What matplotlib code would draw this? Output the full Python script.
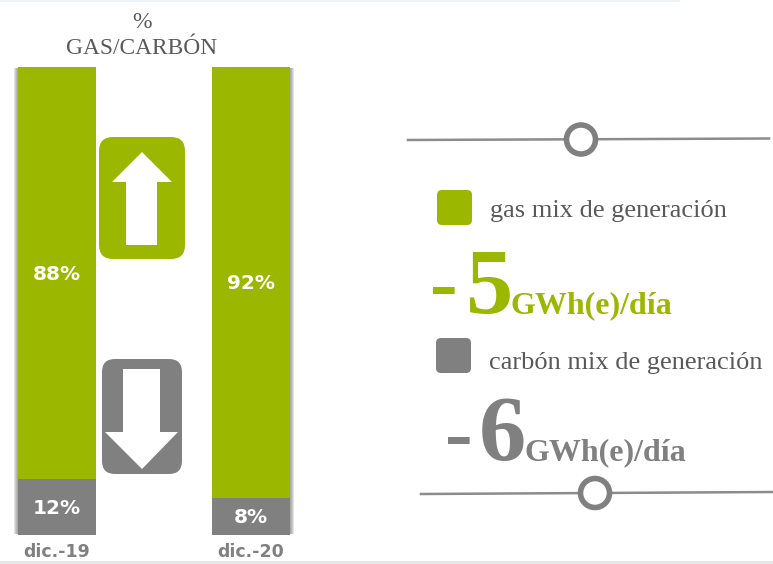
import matplotlib
matplotlib.use('Agg')
import matplotlib.pyplot as plt
from matplotlib.patches import FancyBboxPatch, Polygon, Rectangle, Circle

# datos
fechas = ['dic.-19', 'dic.-20']
gas = [88, 92]
carbon = [12, 8]
etiquetas_gas = ['88%', '92%']
etiquetas_carbon = ['12%', '8%']

VERDE = '#9CB700'
GRIS = '#808080'
TEXTO = '#595959'
SERIF = 'Liberation Serif'
W, H = 773, 564

fig = plt.figure(figsize=(W / 100, H / 100), dpi=100, facecolor='white')

# capa en pixeles para todo lo que no es dato
bg = fig.add_axes([0, 0, 1, 1])
bg.set_xlim(0, W)
bg.set_ylim(H, 0)
bg.axis('off')

# bandas finas de arriba y abajo
bg.add_patch(Rectangle((0, 0), 680, 1.5, fc='#E9F3F8', ec='none'))
bg.add_patch(Rectangle((0, 561), W, 3, fc='#E6E6E6', ec='none'))

# sombra de las barras, por capas para que se difumine
for d in [1, 2, 3, 4]:
    bg.add_patch(Rectangle((18 - d, 68), d, 466, fc='#707070', ec='none', alpha=0.2))
    bg.add_patch(Rectangle((290, 68), d, 466, fc='#707070', ec='none', alpha=0.2))

# barras
ax = fig.add_axes([0, (H - 535) / H, 320 / W, 468 / H])
ax.patch.set_alpha(0)
ax.set_xlim(-57 / 194, (320 - 57) / 194)
ax.set_ylim(0, 100)
ax.axis('off')
pos = range(len(fechas))
ax.bar(pos, carbon, width=0.402, color=GRIS)
ax.bar(pos, gas, width=0.402, bottom=carbon, color=VERDE)

for i in pos:
    ax.annotate(etiquetas_gas[i], (i, carbon[i] + gas[i] / 2), xytext=(0, -1), textcoords='offset points',
                color='white', fontsize=14.5, fontweight='bold', family='DejaVu Sans', ha='center', va='center')
    ax.annotate(etiquetas_carbon[i], (i, carbon[i] / 2), xytext=(0, -1), textcoords='offset points',
                color='white', fontsize=14.5, fontweight='bold', family='DejaVu Sans', ha='center', va='center')
    ax.annotate(fechas[i], (i, 0), xytext=(0, -16), textcoords='offset points', annotation_clip=False,
                color=GRIS, fontsize=12.5, fontweight='bold', family='DejaVu Sans', ha='center', va='baseline')

# titulo
bg.text(142, 22.5, '%', color=TEXTO, fontsize=17, family=SERIF, ha='center', va='center')
bg.text(142, 49, 'GAS/CARBÓN', color=TEXTO, fontsize=16.8, family=SERIF, ha='center', va='center')


def caja(x0, y0, x1, y1, color, r):
    bg.add_patch(FancyBboxPatch((x0 + r, y0 + r), x1 - x0 - 2 * r, y1 - y0 - 2 * r,
                                boxstyle='round,pad=%d,rounding_size=%d' % (r, r),
                                fc=color, ec='none'))


# flecha arriba
caja(99, 137, 185, 259, VERDE, 14)
bg.add_patch(Polygon([(142, 152), (172, 182), (157, 182), (157, 245), (126, 245), (126, 182), (112, 182)],
                     fc='white', ec='none'))
# flecha abajo
caja(102, 359, 182, 474, GRIS, 13)
bg.add_patch(Polygon([(123, 369), (160, 369), (160, 432), (178, 432), (142, 469), (105, 432), (123, 432)],
                     fc='white', ec='none'))

# lineas con circulo
bg.plot([408, 769], [140, 138.5], color='#8C8C8C', lw=1.8, zorder=2)
bg.add_patch(Circle((581, 139.5), 14.5, fc='white', ec=GRIS, lw=4, zorder=3))
bg.plot([421, 773], [494, 492], color='#8C8C8C', lw=1.8, zorder=2)
bg.add_patch(Circle((595, 493), 14.5, fc='white', ec=GRIS, lw=4, zorder=3))

# leyenda
caja(437, 190, 472, 225, VERDE, 5)
caja(436, 338, 471, 373, GRIS, 5)
bg.text(490, 211, 'gas mix de generación', color=TEXTO, fontsize=19, family=SERIF, ha='left', va='center')
bg.text(489, 363, 'carbón mix de generación', color=TEXTO, fontsize=19, family=SERIF, ha='left', va='center')

# cifras
bg.text(430, 310, '-', color=VERDE, fontsize=60, fontweight='bold', family=SERIF, ha='left', va='baseline')
bg.text(466, 313, '5', color=VERDE, fontsize=68, fontweight='bold', family=SERIF, ha='left', va='baseline')
bg.text(511, 313, 'GWh(e)/día', color=VERDE, fontsize=23, fontweight='bold', family=SERIF, ha='left', va='baseline')
bg.text(445, 460, '-', color=GRIS, fontsize=60, fontweight='bold', family=SERIF, ha='left', va='baseline')
bg.text(479, 460, '6', color=GRIS, fontsize=68, fontweight='bold', family=SERIF, ha='left', va='baseline')
bg.text(525, 460, 'GWh(e)/día', color=GRIS, fontsize=23, fontweight='bold', family=SERIF, ha='left', va='baseline')

fig.savefig('out.png', dpi=100, facecolor='white')
